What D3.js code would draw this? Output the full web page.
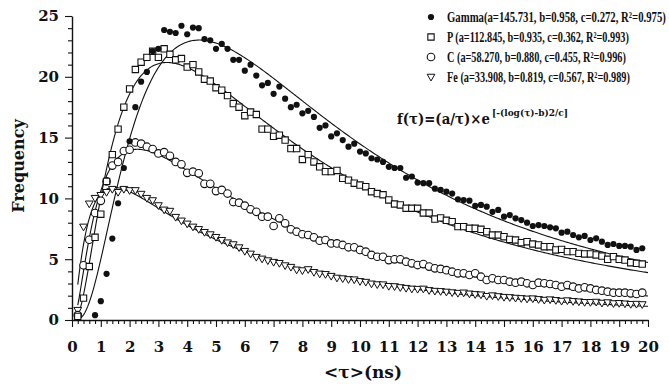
<!DOCTYPE html>
<html><head><meta charset="utf-8">
<script src="https://cdn.jsdelivr.net/npm/d3@7/dist/d3.min.js"></script>
<style>
html,body{margin:0;padding:0;background:#fff;}
svg text{font-family:"DejaVu Serif","Liberation Serif",serif;font-weight:bold;fill:#111;}
</style></head>
<body><svg id="chart" width="669" height="384"></svg>
<script>
// ---- data ----
const tau = [0.2,0.4,0.6,0.8,1.0,1.2,1.4,1.6,1.8,2.0,2.2,2.4,2.6,2.8,3.0,3.2,3.4,3.6,3.8,4.0,
4.2,4.4,4.6,4.8,5.0,5.2,5.4,5.6,5.8,6.0,6.2,6.4,6.6,6.8,7.0,7.2,7.4,7.6,7.8,8.0,
8.2,8.4,8.6,8.8,9.0,9.2,9.4,9.6,9.8,10.0,10.2,10.4,10.6,10.8,11.0,11.2,11.4,11.6,11.8,12.0,
12.2,12.4,12.6,12.8,13.0,13.2,13.4,13.6,13.8,14.0,14.2,14.4,14.6,14.8,15.0,15.2,15.4,15.6,15.8,16.0,
16.2,16.4,16.6,16.8,17.0,17.2,17.4,17.6,17.8,18.0,18.2,18.4,18.6,18.8,19.0,19.2,19.4,19.6,19.8];

const gammaVals = [null,null,null,
0.4,1.55,3.8,6.7,9.6,12.5,14.7,17.5,19.6,20.4,22.1,22.3,23.85,23.7,23.6,24.2,23.5,24.05,24.0,23.1,23.0,
22.3,22.7,22.3,21.4,21.4,20.5,21.0,20.1,19.3,19.5,18.6,19.2,18.2,17.5,17.7,17.0,17.2,16.7,15.8,16.0,
15.1,15.35,14.8,14.25,14.5,13.85,13.7,13.3,13.2,13.0,12.6,12.5,12.5,11.7,11.8,11.3,11.25,11.25,10.8,10.7,10.55,
10.4,9.92,9.87,9.81,9.38,9.46,9.32,8.9,9.05,8.5,8.63,8.36,8.22,8.0,7.73,7.81,7.73,7.62,7.54,7.18,
7.26,6.99,6.8,6.91,6.58,6.72,6.44,6.17,6.25,6.09,6.09,6.03,5.76,5.9];

const pVals = [0.3,1.8,4.4,6.8,8.7,11.4,13.6,15.7,17.5,19.0,20.6,21.2,21.6,22.1,21.6,22.3,21.85,21.4,21.5,20.8,
21.0,20.4,19.8,19.65,19.1,18.9,18.45,17.8,17.5,16.8,17.1,16.9,15.7,15.7,15.1,15.2,14.8,14.1,14.1,13.2,
13.6,13.0,12.6,12.2,12.2,12.3,11.65,11.5,11.25,11.1,10.96,10.55,10.4,10.3,9.87,9.54,9.46,9.19,9.19,9.19,
8.8,8.8,8.3,8.4,8.2,8.09,7.68,7.68,7.54,7.54,7.46,7.26,6.99,6.99,6.85,6.63,6.58,6.36,6.44,6.25,
6.17,6.03,6.03,5.76,5.81,5.62,5.62,5.48,5.43,5.43,5.35,5.26,4.99,5.21,4.99,4.93,4.71,4.66,4.6];

const cVals = [0.4,4.5,6.6,8.8,9.8,11.4,12.7,13.0,13.9,14.0,14.6,14.5,14.25,14.06,13.7,13.8,13.5,13.0,12.8,12.1,
12.2,12.06,11.2,11.2,10.6,10.7,10.4,9.7,9.65,9.4,9.1,8.9,8.5,8.5,7.73,8.36,7.95,7.46,7.26,7.05,
6.99,6.8,6.52,6.58,6.3,6.3,6.17,5.98,5.98,5.76,5.62,5.35,5.2,5.2,4.93,4.99,4.99,4.8,4.66,4.52,
4.6,4.39,4.25,4.2,4.1,3.97,3.84,3.84,3.7,3.84,3.56,3.29,3.43,3.29,3.29,3.15,3.07,3.15,3.02,2.88,
3.07,3.02,2.96,2.88,2.74,2.88,2.74,2.6,2.69,2.6,2.47,2.41,2.33,2.25,2.25,2.25,2.19,2.14,2.25];

const feVals = [0.85,7.7,9.6,10.06,10.3,10.55,10.8,10.55,10.8,10.7,10.7,10.4,10.06,9.87,9.46,9.1,9.0,8.5,8.2,7.95,
7.7,7.5,7.26,7.07,6.85,6.6,6.4,6.25,6.0,5.7,5.48,5.21,5.07,4.93,4.8,4.71,4.52,4.39,4.17,4.11,
4.2,3.97,3.84,3.8,3.65,3.5,3.45,3.38,3.36,3.22,3.16,3.02,2.96,2.95,2.82,2.8,2.72,2.66,2.6,2.58,
2.6,2.48,2.42,2.4,2.35,2.3,2.25,2.28,2.2,2.15,2.12,2.0,2.05,1.98,1.92,1.9,1.85,1.82,1.78,1.8,
1.74,1.68,1.72,1.66,1.6,1.64,1.58,1.55,1.5,1.5,1.52,1.44,1.48,1.4,1.42,1.38,1.34,1.35,1.32];

// fit parameters from the legend
const seriesNames = ["Gamma","P","C","Fe"];
const fitA = [145.731,112.845,58.270,33.908];
const fitB = [0.958,0.935,0.880,0.819];
const fitC = [0.272,0.362,0.455,0.567];
const fitR2 = [0.975,0.993,0.996,0.989];

const xTicks = d3.range(0,21);
const yTicks = [0,5,10,15,20,25];

// ---- drawing ----
const svg = d3.select("#chart");
const x = d3.scaleLinear().domain([0,20]).range([72,648]);
const y = d3.scaleLinear().domain([0,25]).range([320,16]);

// fit curves
const fit = (i,t)=> (fitA[i]/t)*Math.exp(-Math.pow(Math.log10(t)-fitB[i],2)/fitC[i]);
const tFine = d3.range(0.2,20.0001,0.05);
const line = d3.line().x(d=>x(d[0])).y(d=>y(d[1]));
seriesNames.forEach((s,i)=>{
  svg.append("path").datum(tFine.map(t=>[t,fit(i,t)]))
    .attr("d",line).attr("fill","none").attr("stroke","#111").attr("stroke-width",1.1);
});

// markers
const data = [gammaVals,pVals,cVals,feVals];
const sqSym = d3.symbol().type(d3.symbolSquare).size(40);
const triSym = d3.symbol().type(d3.symbolTriangle).size(26);
function drawMarker(g,kind){
  if(kind===0){ g.append("circle").attr("r",3.1).attr("fill","#111"); }
  else if(kind===1){ g.append("path").attr("d",sqSym()).attr("fill","#fff").attr("stroke","#111").attr("stroke-width",1.1); }
  else if(kind===2){ g.append("circle").attr("r",3.8).attr("fill","#fff").attr("stroke","#111").attr("stroke-width",1.1); }
  else { g.append("path").attr("d",triSym()).attr("transform","rotate(180)").attr("fill","#fff").attr("stroke","#111").attr("stroke-width",1.0); }
}
[3,2,1,0].forEach(k=>{
  const pts = tau.map((t,j)=>[t,data[k][j]]).filter(d=>d[1]!=null);
  const gs = svg.append("g").selectAll("g").data(pts).join("g")
    .attr("transform",d=>`translate(${x(d[0])},${y(d[1])})`);
  gs.each(function(){ drawMarker(d3.select(this),k); });
});

// axes
svg.append("g").attr("transform","translate(0,320)")
  .call(d3.axisBottom(x).tickValues(xTicks).tickSize(7).tickSizeOuter(0).tickPadding(14).tickFormat(d3.format("d")));
svg.append("g").attr("transform","translate(0,320)")
  .call(d3.axisBottom(x).tickValues(d3.range(0,100).map(i=>i*0.2+0.2).filter(v=>Math.abs(v-Math.round(v))>1e-6)).tickSize(4).tickSizeOuter(0).tickFormat(""))
  .select(".domain").remove();
svg.append("g").attr("transform","translate(72,0)")
  .call(d3.axisLeft(y).tickValues(yTicks).tickSize(7).tickSizeOuter(0).tickPadding(6));
svg.append("g").attr("transform","translate(72,0)")
  .call(d3.axisLeft(y).tickValues(d3.range(0,26).filter(v=>v%5!==0)).tickSize(4).tickSizeOuter(0).tickFormat(""))
  .select(".domain").remove();
svg.selectAll(".domain").attr("stroke","#111").attr("stroke-width",1.4);
svg.selectAll(".tick line").attr("stroke","#111").attr("stroke-width",1.1);
svg.selectAll(".tick text").attr("font-family","DejaVu Serif").attr("font-weight","bold").attr("font-size",15).attr("fill","#111");

// axis titles
svg.append("text").attr("transform","translate(24,166) rotate(-90)").attr("text-anchor","middle")
  .attr("font-size",16).text("Frequency");
svg.append("text").attr("x",363).attr("y",378).attr("text-anchor","middle")
  .attr("font-size",17).text("<τ>(ns)");

// helper: fit a text to a target width via horizontal scaling
function fitText(sel, x0, y0, target){
  const w = sel.node().getComputedTextLength();
  const s = Math.min(1, target / w);
  sel.attr("x",0).attr("y",0).attr("transform",`translate(${x0},${y0}) scale(${s},1)`);
}

// legend
const legY = [17,37,57,76.5];
const legLen = [219,182,179,183];
const legLabel = ["Gamma","P ","C ","Fe "];
seriesNames.forEach((s,i)=>{
  const g = svg.append("g").attr("transform",`translate(431,${legY[i]})`);
  drawMarker(g,i);
  const t = svg.append("text").attr("font-size",15).style("font-family","'Liberation Serif',serif")
    .text(`${legLabel[i]}(a=${fitA[i].toFixed(3)}, b=${fitB[i].toFixed(3)}, c=${fitC[i].toFixed(3)}, R²=${fitR2[i].toFixed(3)})`);
  fitText(t, 447, legY[i]+5, legLen[i]);
});

// formula
const f1 = svg.append("text").attr("font-size",14).text("f(τ)=(a/τ)×e");
fitText(f1, 397, 124, 93);
const f2 = svg.append("text").attr("font-size",9).text("[-(log(τ)-b)2/c]");
fitText(f2, 492, 116, 76);
</script></body></html>
